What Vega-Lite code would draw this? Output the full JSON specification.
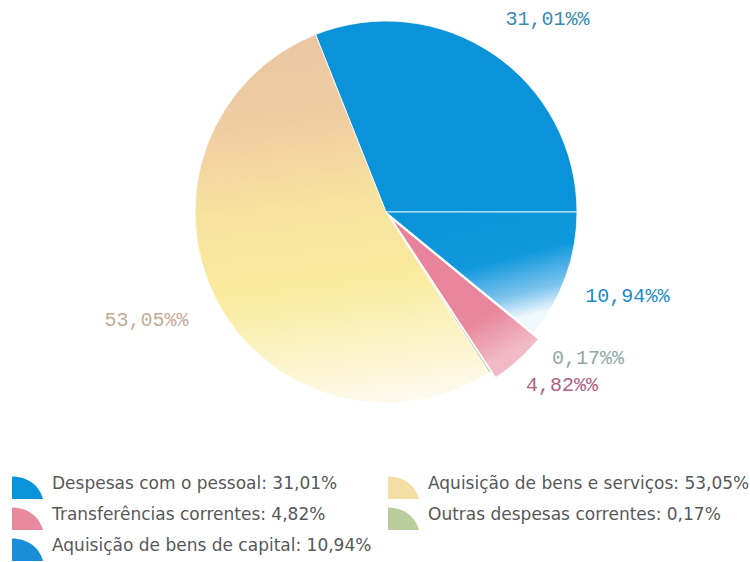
{
  "$schema": "https://vega.github.io/schema/vega-lite/v6.json",
  "width": 772,
  "height": 424,
  "autosize": {"type": "none"},
  "padding": {"left": 0, "top": 0, "right": 0, "bottom": 138},
  "background": "white",
  "config": {"view": {"stroke": null}},
  "data": {
    "values": [
      {"cat": "Despesas com o pessoal: 31,01%", "value": 31.01, "order": 1, "label": "31,01%%"},
      {"cat": "Aquisição de bens de capital: 10,94%", "value": 10.94, "order": 2, "label": "10,94%%"},
      {"cat": "Transferências correntes: 4,82%", "value": 4.82, "order": 3, "label": "4,82%%"},
      {"cat": "Outras despesas correntes: 0,17%", "value": 0.17, "order": 4, "label": "0,17%%"},
      {"cat": "Aquisição  de bens e serviços: 53,05%", "value": 53.05, "order": 5, "label": "53,05%%"}
    ]
  },
  "layer": [
    {
      "mark": {"type": "arc", "outerRadius": 191, "stroke": "white", "strokeWidth": 0.8},
      "encoding": {
        "theta": {"field": "value", "type": "quantitative", "stack": true, "scale": {"range": [-0.3777, 5.9055]}},
        "order": {"field": "order", "type": "quantitative"},
        "color": {
          "condition": [
            {"test": "datum.order === 2", "value": {"gradient": "linear", "x1": 0, "y1": 0, "x2": 0.4, "y2": 1, "stops": [{"offset": 0, "color": "#0b93da"}, {"offset": 0.55, "color": "#1098dc"}, {"offset": 0.82, "color": "#7cc3ee"}, {"offset": 1, "color": "#f2f9fe"}]}},
            {"test": "datum.order === 5", "value": {"gradient": "linear", "x1": 0.45, "y1": 0, "x2": 0.55, "y2": 1, "stops": [{"offset": 0, "color": "#ebc6a2"}, {"offset": 0.22, "color": "#efcda2"}, {"offset": 0.45, "color": "#f7e29e"}, {"offset": 0.68, "color": "#f9eb9f"}, {"offset": 0.85, "color": "#fbf3c6"}, {"offset": 1, "color": "#fdfaec"}]}}
          ],
          "field": "cat",
          "type": "nominal",
          "scale": {
            "domain": ["Despesas com o pessoal: 31,01%", "Aquisição  de bens e serviços: 53,05%", "Transferências correntes: 4,82%", "Outras despesas correntes: 0,17%", "Aquisição de bens de capital: 10,94%"],
            "range": ["#0b93da", "#f4dea6", "#e8899e", "#b8cc9c", "#1a8ed8"]
          },
          "legend": {
            "title": null,
            "orient": "bottom",
            "columns": 2,
            "symbolType": "M-1,1V-0.45C0,-0.45 0.75,0.1 1,1Z",
            "symbolSize": 961,
            "symbolStrokeWidth": 0,
            "symbolOpacity": 1,
            "labelFont": "DejaVu Sans",
            "labelFontSize": 17,
            "labelColor": "#585858",
            "labelOffset": 9,
            "labelLimit": 0,
            "columnPadding": 16,
            "rowPadding": 0,
            "padding": 12,
            "offset": 32
          }
        },
        "opacity": {"condition": {"test": "datum.order === 3", "value": 0}, "value": 1}
      }
    },
    {
      "mark": {"type": "arc", "outerRadius": 191, "xOffset": 5, "yOffset": 6, "stroke": "white", "strokeWidth": 1.2,
        "fill": {"gradient": "linear", "x1": 0, "y1": 0, "x2": 0.5, "y2": 1, "stops": [{"offset": 0, "color": "#e6809a"}, {"offset": 0.75, "color": "#e9879e"}, {"offset": 1, "color": "#f2bac7"}]}},
      "encoding": {
        "theta": {"field": "value", "type": "quantitative", "stack": true, "scale": {"range": [-0.3777, 5.9055]}},
        "order": {"field": "order", "type": "quantitative"},
        "opacity": {"condition": {"test": "datum.order === 3", "value": 1}, "value": 0}
      }
    },
    {
      "mark": {"type": "text", "radius": 250, "dx": 21, "dy": 14, "font": "Liberation Mono", "fontSize": 20, "color": "#3a8ab4", "align": "center", "baseline": "middle"},
      "encoding": {
        "theta": {"field": "value", "type": "quantitative", "stack": true, "scale": {"range": [-0.3777, 5.9055]}},
        "order": {"field": "order", "type": "quantitative"},
        "text": {"condition": {"test": "datum.order === 1", "field": "label"}, "value": ""}
      }
    },
    {
      "mark": {"type": "text", "radius": 250, "dx": 6, "dy": 0, "font": "Liberation Mono", "fontSize": 20, "color": "#1a8cc8", "align": "center", "baseline": "middle"},
      "encoding": {
        "theta": {"field": "value", "type": "quantitative", "stack": true, "scale": {"range": [-0.3777, 5.9055]}},
        "order": {"field": "order", "type": "quantitative"},
        "text": {"condition": {"test": "datum.order === 2", "field": "label"}, "value": ""}
      }
    },
    {
      "mark": {"type": "text", "radius": 250, "dx": 9, "dy": -13, "font": "Liberation Mono", "fontSize": 20, "color": "#b06080", "align": "center", "baseline": "middle"},
      "encoding": {
        "theta": {"field": "value", "type": "quantitative", "stack": true, "scale": {"range": [-0.3777, 5.9055]}},
        "order": {"field": "order", "type": "quantitative"},
        "text": {"condition": {"test": "datum.order === 3", "field": "label"}, "value": ""}
      }
    },
    {
      "mark": {"type": "text", "radius": 250, "dx": 66, "dy": -64, "font": "Liberation Mono", "fontSize": 20, "color": "#90a89e", "align": "center", "baseline": "middle"},
      "encoding": {
        "theta": {"field": "value", "type": "quantitative", "stack": true, "scale": {"range": [-0.3777, 5.9055]}},
        "order": {"field": "order", "type": "quantitative"},
        "text": {"condition": {"test": "datum.order === 4", "field": "label"}, "value": ""}
      }
    },
    {
      "mark": {"type": "text", "radius": 250, "dx": -17, "dy": -6, "font": "Liberation Mono", "fontSize": 20, "color": "#c4ab98", "align": "center", "baseline": "middle"},
      "encoding": {
        "theta": {"field": "value", "type": "quantitative", "stack": true, "scale": {"range": [-0.3777, 5.9055]}},
        "order": {"field": "order", "type": "quantitative"},
        "text": {"condition": {"test": "datum.order === 5", "field": "label"}, "value": ""}
      }
    }
  ]
}
